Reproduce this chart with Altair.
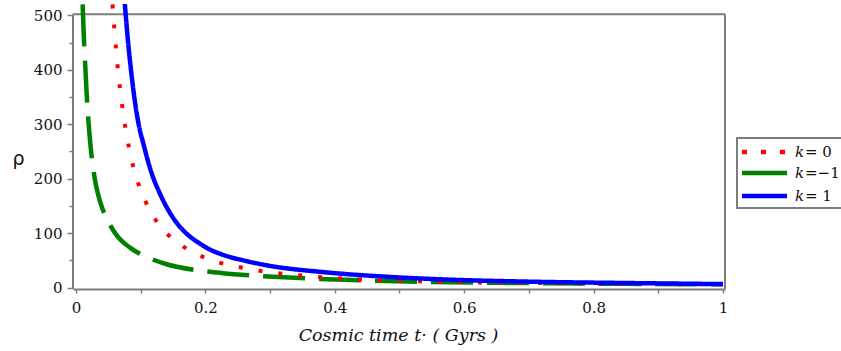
import altair as alt
import pandas as pd

# Energy density rho(t) for the three curvature cases (t in Gyrs)
t_k0 = [0.0565, 0.0592, 0.0618, 0.0647, 0.0681, 0.0721, 0.0767, 0.0821, 0.0893,
        0.0994, 0.112, 0.128, 0.150, 0.175, 0.2035, 0.234, 0.265, 0.296, 0.327,
        0.357, 0.389, 0.482, 0.60, 0.75, 1.0]
rho_k0 = [520, 477, 439, 402, 365, 328, 291, 256, 218,
          181, 147, 116, 89, 69, 53, 42, 35, 28.7, 24.5,
          21.4, 18.4, 13.4, 10, 8, 6]

t_km1 = [0.0103, 0.0118, 0.0134, 0.0155, 0.0175, 0.0200, 0.0227, 0.026, 0.029,
         0.034, 0.040, 0.050, 0.063, 0.084, 0.114, 0.140, 0.187, 0.227, 0.269,
         0.346, 0.439, 0.527, 0.70, 0.85, 1.0]
rho_km1 = [520, 470, 430, 380, 335, 295, 258, 225, 200,
           172, 148, 121, 96, 73, 54, 43, 32, 26.5, 22.5,
           17.5, 13.4, 10.8, 8.3, 7, 6]

t_k1 = [0.0752, 0.0768, 0.0806, 0.085, 0.090, 0.097, 0.104, 0.117, 0.130, 0.140,
        0.155, 0.171, 0.190, 0.207, 0.223, 0.259, 0.295, 0.387, 0.48, 0.57,
        0.70, 0.85, 1.0]
rho_k1 = [525, 502, 450, 400, 351, 299, 265, 210, 172, 148,
          120, 99, 82, 70, 62, 50, 41, 28, 20, 15,
          11, 8.5, 6.5]

x_ticks = [0, 0.1, 0.2, 0.3, 0.4, 0.5, 0.6, 0.7, 0.8, 0.9, 1.0]
y_ticks = [0, 50, 100, 150, 200, 250, 300, 350, 400, 450, 500]

legend_k = ["k", "k", "k"]
legend_rest = ["= 0", "=\u22121", "= 1"]

GRAY = "#7d7d7d"
TEXT = "#111111"
SERIF = "DejaVu Serif"

X_DOMAIN = [-0.0046, 1.0031]
Y_DOMAIN = [-2.5, 520.8]
FRAME_TOP = 502

xscale = alt.Scale(domain=X_DOMAIN, nice=False, zero=False)
yscale = alt.Scale(domain=Y_DOMAIN, nice=False, zero=False)

x_axis = alt.Axis(
    values=x_ticks,
    labelExpr="round(datum.value * 10) % 2 == 0 ? toString(round(datum.value * 10) / 10) : ''",
    grid=False, domain=True, domainColor=GRAY, domainWidth=2,
    tickColor=GRAY, tickWidth=1.5, tickSize=4,
    labelFont=SERIF, labelFontSize=15, labelColor=TEXT, labelPadding=7,
    labelFlush=False, labelOverlap=False,
    title="Cosmic time t\u00b7 ( Gyrs )", titleFont=SERIF, titleFontSize=17.5,
    titleFontStyle="italic", titleFontWeight="normal", titleColor=TEXT,
    titleX=325, titleY=51, titleAlign="center", titleBaseline="alphabetic",
)
y_axis = alt.Axis(
    values=y_ticks,
    labelExpr="datum.value % 100 == 0 ? datum.label : ''",
    grid=False, domain=False,
    tickColor=GRAY, tickWidth=1.5,
    tickSize={"condition": {"test": "datum.value % 100 === 0", "value": 6}, "value": 4},
    labelFont=SERIF, labelFontSize=15, labelColor=TEXT, labelPadding=5,
    labelFlush=False, labelOverlap=False,
    title="\u03c1", titleFont="DejaVu Sans", titleFontSize=19, titleFontWeight="normal",
    titleColor=TEXT, titleAngle=0, titleX=-55, titleY=154,
    titleAlign="center", titleBaseline="middle",
)

# Box around the plot area (top, left and right edges; the x axis is the bottom).
# This layer also carries both axes.
frame_df = pd.DataFrame({
    "t": [X_DOMAIN[0], X_DOMAIN[0], X_DOMAIN[1]],
    "t2": [X_DOMAIN[1], X_DOMAIN[0], X_DOMAIN[1]],
    "rho": [FRAME_TOP, Y_DOMAIN[0], Y_DOMAIN[0]],
    "rho2": [FRAME_TOP, FRAME_TOP, FRAME_TOP],
})
frame = alt.Chart(frame_df).mark_rule(color=GRAY, strokeWidth=2).encode(
    x=alt.X("t:Q", scale=xscale, axis=x_axis), x2="t2",
    y=alt.Y("rho:Q", scale=yscale, axis=y_axis), y2="rho2",
)


def curve(ts, rhos, color, dash, width):
    df = pd.DataFrame({"t": ts, "rho": rhos})
    base = alt.Chart(df).mark_line(
        color=color, strokeWidth=width, strokeDash=dash, strokeCap="butt",
        interpolate="monotone", clip=True,
    )
    return base.encode(
        x=alt.X("t:Q", scale=xscale, axis=x_axis),
        y=alt.Y("rho:Q", scale=yscale, axis=y_axis),
    )


green = curve(t_km1, rho_km1, "#008000", [42, 14], 4.5)
red = curve(t_k0, rho_k0, "#ff0000", [4, 16], 4)
blue = curve(t_k1, rho_k1, "#0000ff", [1, 0], 4.5)

# Legend drawn beside the plot
one = pd.DataFrame({"a": [0]})
legend_box = alt.Chart(one).mark_rect(fill="white", stroke=GRAY, strokeWidth=2).encode(
    x=alt.value(664), x2=alt.value(780), y=alt.value(134), y2=alt.value(204)
)
rows_y = [148, 169, 192]
legend_styles = [("#ff0000", [5, 14], 4.5), ("#008000", [1, 0], 4.5), ("#0000ff", [1, 0], 4.5)]
legend_layers = [legend_box]
for yy, (col, dash, w), kk, rest in zip(rows_y, legend_styles, legend_k, legend_rest):
    legend_layers.append(
        alt.Chart(one).mark_rule(color=col, strokeDash=dash, strokeWidth=w, strokeCap="butt").encode(
            x=alt.value(669), x2=alt.value(714), y=alt.value(yy)
        )
    )
    legend_layers.append(
        alt.Chart(one).mark_text(
            text=kk, font=SERIF, fontSize=15, fontStyle="italic", color=TEXT,
            align="left", baseline="middle",
        ).encode(x=alt.value(722), y=alt.value(yy))
    )
    legend_layers.append(
        alt.Chart(one).mark_text(
            text=rest, font=SERIF, fontSize=15, color=TEXT,
            align="left", baseline="middle",
        ).encode(x=alt.value(732), y=alt.value(yy))
    )

chart = alt.layer(frame, green, red, blue, *legend_layers).properties(
    width=652,
    height=285,
    padding={"left": 73, "top": 4, "right": 116, "bottom": 62},
    autosize=alt.AutoSizeParams(type="none"),
    background="white",
).configure_view(stroke=None)

chart.save("out.html", embed_options={"renderer": "svg", "actions": False})
